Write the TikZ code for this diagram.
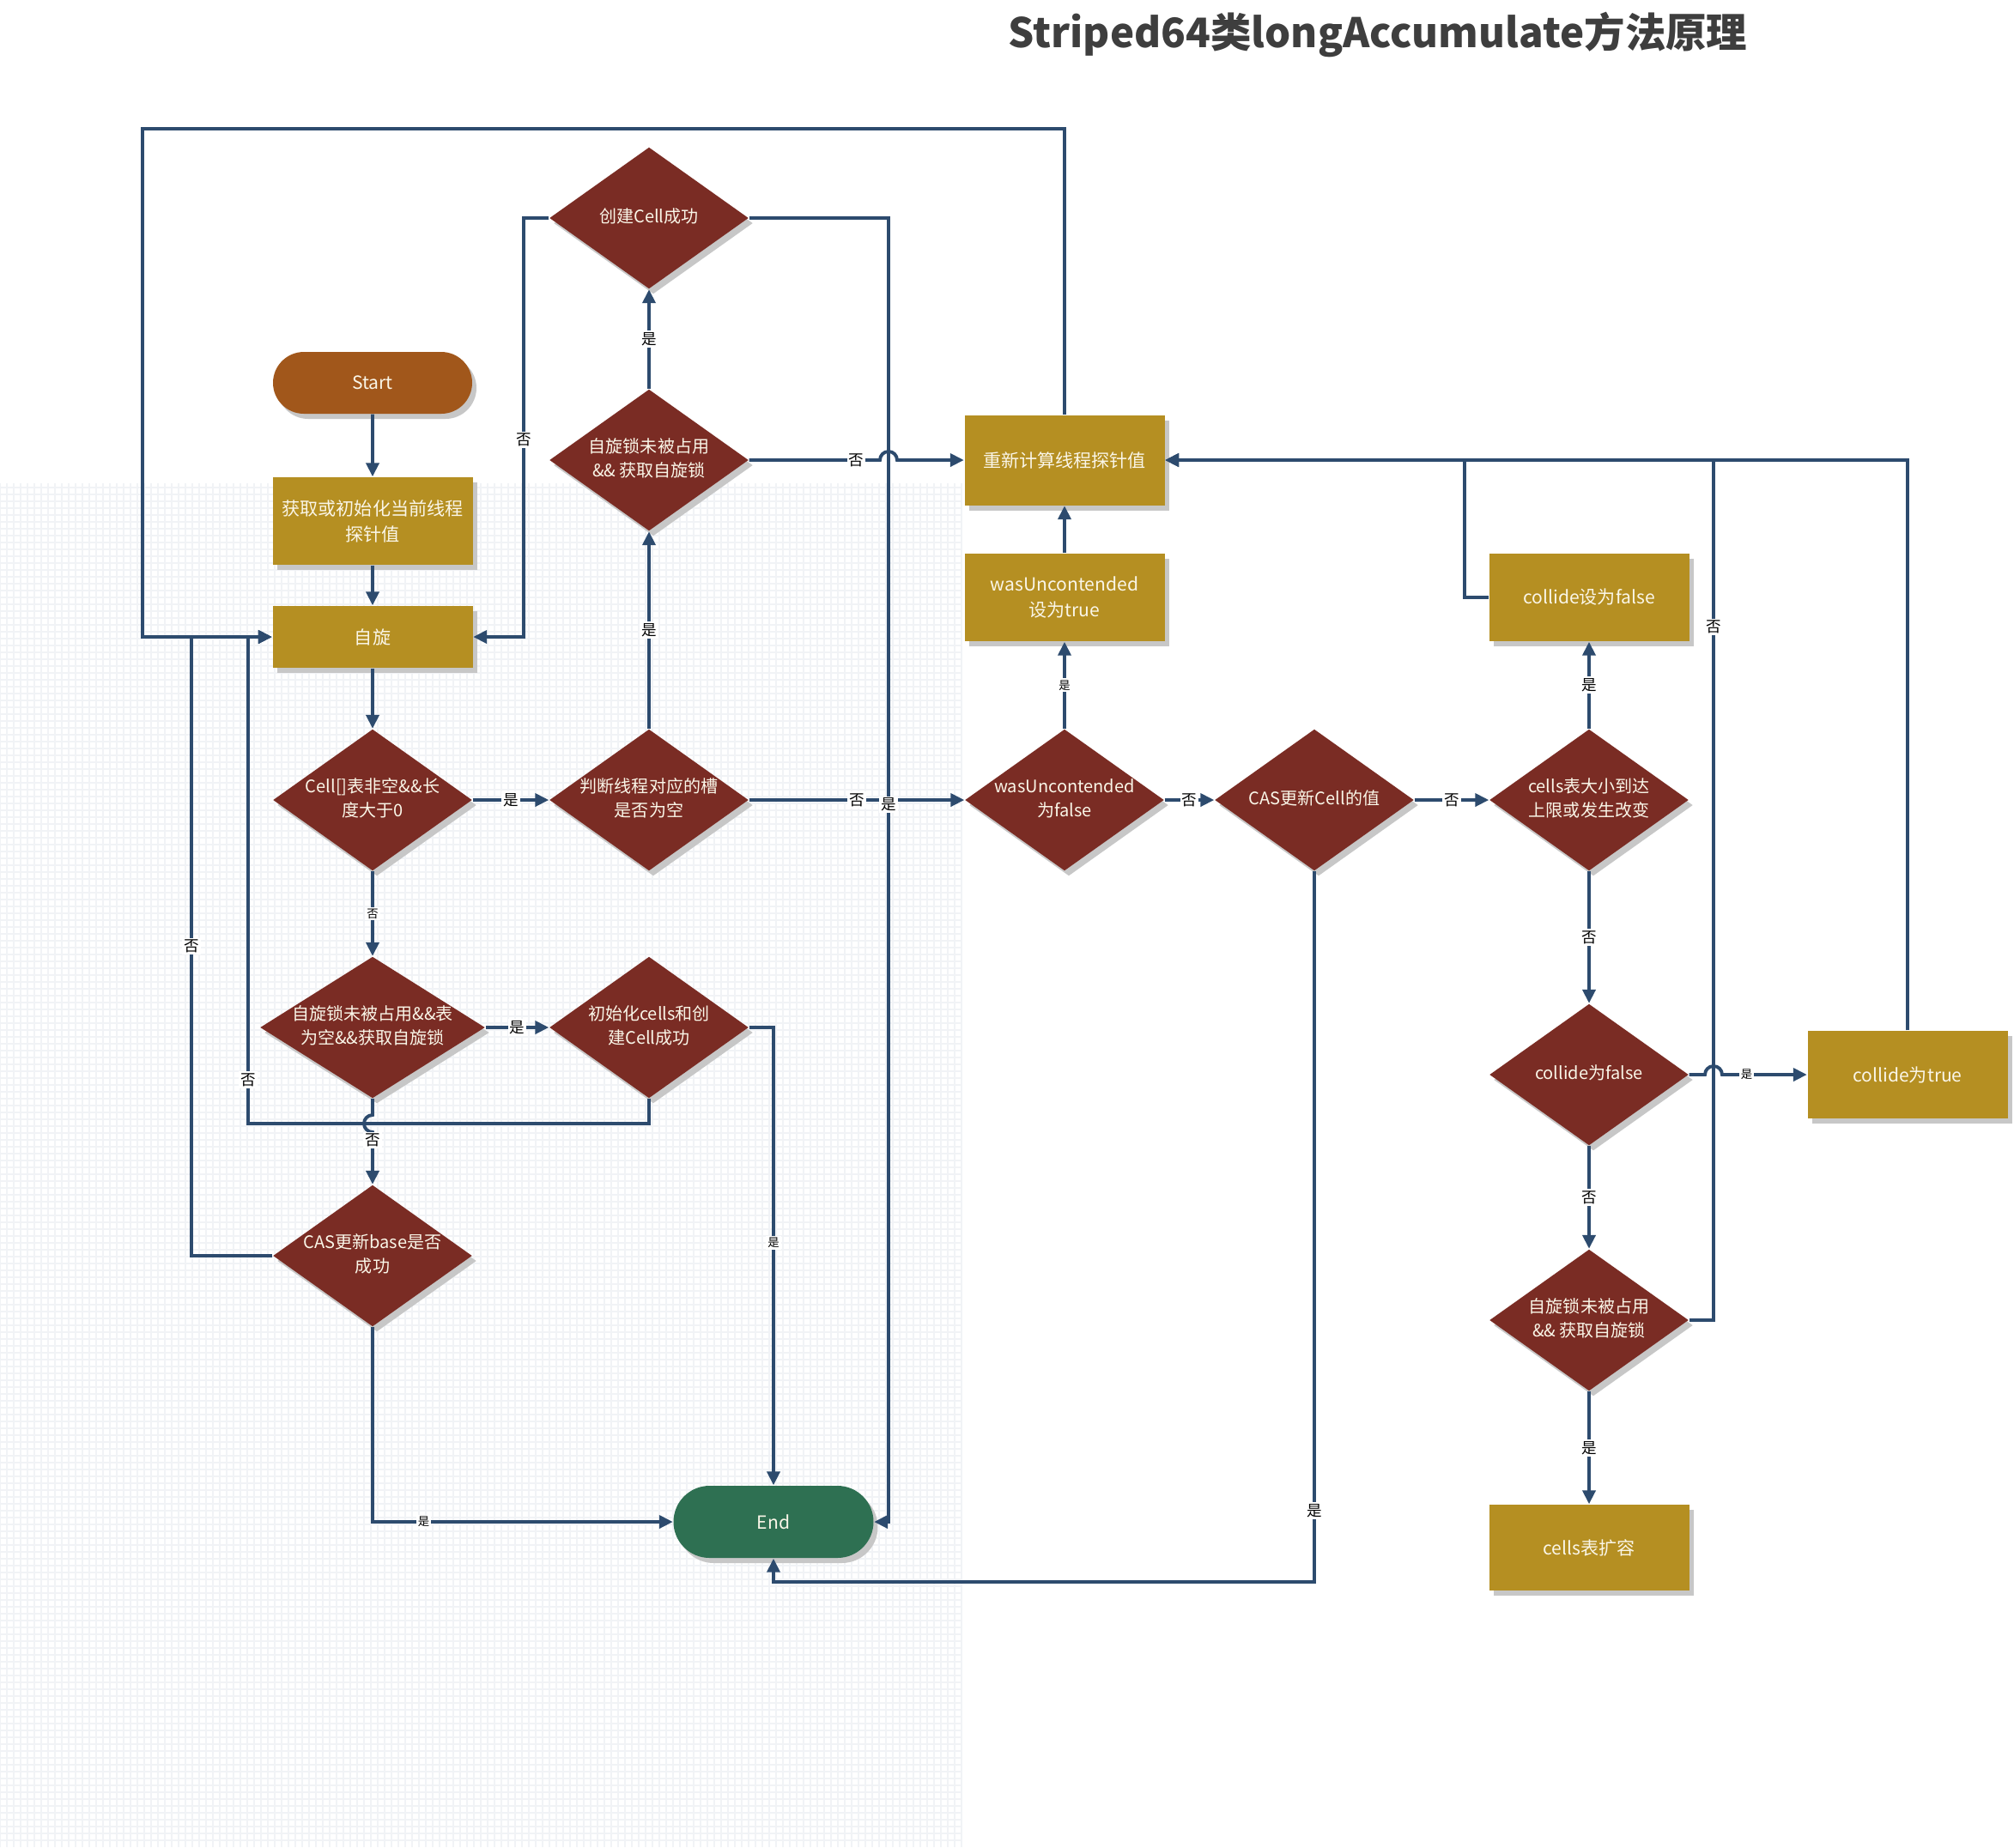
\documentclass[tikz,border=0pt]{standalone}
\usepackage{fontspec}
\setmainfont{Noto Sans CJK SC}
\usetikzlibrary{arrows.meta,shapes.geometric,shapes.misc,shadows}

\definecolor{linec}{RGB}{45,75,110}
\definecolor{boxc}{RGB}{181,143,34}
\definecolor{diac}{RGB}{122,44,36}
\definecolor{startc}{RGB}{161,87,27}
\definecolor{endc}{RGB}{46,112,82}
\definecolor{textc}{RGB}{250,246,232}
\definecolor{gridc}{RGB}{241,243,246}
\definecolor{titlec}{RGB}{62,62,62}

\newcommand{\dtxt}[1]{\makebox[0pt]{\begin{tabular}{@{}c@{}}#1\end{tabular}}}

\tikzset{
  flow/.style={draw=linec, line width=1.1pt, -{Triangle[length=1.6mm,width=1.5mm]}},
  link/.style={draw=linec, line width=1.1pt},
  shade/.style={drop shadow={shadow xshift=0.5mm, shadow yshift=-0.6mm, fill=black!22, opacity=1}},
  procbox/.style={rectangle, fill=boxc, minimum width=2.33cm, minimum height=1.02cm,
    inner sep=0pt, text=textc, align=center, font=\fontsize{6}{8.5}\selectfont, shade},
  decide/.style={diamond, fill=diac, minimum width=2.32cm, minimum height=1.65cm,
    inner sep=0pt, text=textc, font=\fontsize{5.7}{8}\selectfont, shade},
  term/.style={rounded rectangle, minimum width=2.32cm, minimum height=0.72cm,
    inner sep=0pt, text=textc, font=\fontsize{6}{8}\selectfont, shade},
  lbl/.style={fill=white, inner sep=0.6pt, text=black, font=\fontsize{5}{5}\selectfont},
  lblsmall/.style={lbl, font=\fontsize{3.8}{4}\selectfont},
}

\begin{document}
\begin{tikzpicture}
    \useasboundingbox (0,0) rectangle (23.46,-21.52);%
    \fill[white] (0,0) rectangle (23.46,-21.52);%
    \draw[gridc, line width=0.35pt, step=0.08] (0,-21.52) grid (11.2,-5.63);%

    \node[font=\fontsize{13.5}{16}\selectfont\bfseries, text=titlec] (title) at (16.05,-0.40) {Striped64类longAccumulate方法原理};%

    % left column
    \node[term, fill=startc] (start) at (4.34,-4.46) {Start};%
    \node[procbox] (probe) at (4.34,-6.07) {获取或初始化当前线程\\探针值};%
    \node[procbox, minimum height=0.72cm] (spin) at (4.34,-7.42) {自旋};%
    \node[decide] (cellsok) at (4.34,-9.32) {\dtxt{Cell[]表非空\&\&长\\度大于0}};%
    \node[decide, minimum width=2.62cm] (initlock) at (4.34,-11.97) {\dtxt{自旋锁未被占用\&\&表\\为空\&\&获取自旋锁}};%
    \node[decide] (casbase) at (4.34,-14.63) {\dtxt{CAS更新base是否\\成功}};%

    % second column
    \node[decide] (slotnull) at (7.56,-9.32) {\dtxt{判断线程对应的槽\\是否为空}};%
    \node[decide] (getlock) at (7.56,-5.36) {\dtxt{自旋锁未被占用\\\&\& 获取自旋锁}};%
    \node[decide] (cellok) at (7.56,-2.54) {\dtxt{创建Cell成功}};%
    \node[decide] (initcells) at (7.56,-11.97) {\dtxt{初始化cells和创\\建Cell成功}};%
    \node[term, fill=endc, minimum width=2.33cm, minimum height=0.84cm] (end) at (9.01,-17.73) {End};%

    % right part
    \node[procbox, minimum height=1.05cm] (recalc) at (12.40,-5.36) {重新计算线程探针值};%
    \node[procbox] (wastrue) at (12.40,-6.96) {wasUncontended\\设为true};%
    \node[decide] (wasfalse) at (12.40,-9.32) {\dtxt{wasUncontended\\为false}};%
    \node[decide] (cascell) at (15.31,-9.32) {\dtxt{CAS更新Cell的值}};%
    \node[decide] (cellsmax) at (18.51,-9.32) {\dtxt{cells表大小到达\\上限或发生改变}};%
    \node[procbox] (setfalse) at (18.51,-6.96) {collide设为false};%
    \node[decide] (collide) at (18.51,-12.52) {\dtxt{collide为false}};%
    \node[procbox] (settrue) at (22.22,-12.52) {collide为true};%
    \node[decide] (getlock2) at (18.51,-15.38) {\dtxt{自旋锁未被占用\\\&\& 获取自旋锁}};%
    \node[procbox, minimum height=1.0cm] (expand) at (18.51,-18.03) {cells表扩容};%

    % connectors, left side
    \draw[flow] (start) -- (probe);%
    \draw[flow] (probe) -- (spin);%
    \draw[flow] (spin) -- (cellsok);%
    \draw[flow] (cellsok) -- (slotnull) node[lbl,midway] {是};%
    \draw[flow] (cellsok) -- (initlock) node[lblsmall,midway] {否};%
    \draw[flow] (initlock) -- (initcells) node[lbl,midway] {是};%
    \draw[flow] (initcells.south) -- (7.56,-13.09) -- (2.89,-13.09) -- node[lbl,pos=0.09] {否} (2.89,-7.42) -- (spin.west);%
    \draw[flow] (initlock.south) -- (4.34,-12.99) arc[start angle=90, end angle=270, radius=0.1] -- node[lbl,pos=0.16] {否} (casbase.north);%
    \draw[flow] (casbase.west) -- (2.23,-14.63) -- node[lbl] {否} (2.23,-7.42) -- (spin.west);%
    \draw[flow] (casbase.south) -- (4.34,-17.73) -- node[lblsmall,pos=0.17] {是} (end.west);%
    \draw[flow] (initcells.east) -- (9.01,-11.97) -- node[lblsmall,pos=0.47] {是} (end.north);%

    % connectors, middle
    \draw[flow] (slotnull) -- (getlock) node[lbl,midway] {是};%
    \draw[flow] (getlock) -- (cellok) node[lbl,midway] {是};%
    \draw[flow] (cellok.west) -- (6.10,-2.54) -- node[lbl,pos=0.53] {否} (6.10,-7.42) -- (spin.east);%
    \draw[flow] (slotnull) -- (wasfalse) node[lbl,midway] {否};%
    \draw[flow] (cellok.east) -- (10.35,-2.54) -- node[lbl,pos=0.45] {是} (10.35,-17.73) -- (end.east);%
    \draw[flow] (getlock.east) -- node[lbl,pos=0.82] {否} (10.25,-5.36) arc[start angle=180, end angle=0, radius=0.1] -- (recalc.west);%
    \draw[flow] (recalc.north) -- (12.40,-1.50) -- (1.66,-1.50) -- (1.66,-7.42) -- (spin.west);%

    % connectors, right side
    \draw[flow] (wasfalse) -- (wastrue) node[lblsmall,midway] {是};%
    \draw[flow] (wastrue) -- (recalc);%
    \draw[flow] (wasfalse) -- (cascell) node[lbl,midway] {否};%
    \draw[flow] (cascell) -- (cellsmax) node[lbl,midway] {否};%
    \draw[flow] (cascell.south) -- node[lbl,pos=0.90] {是} (15.31,-18.43) -- (9.01,-18.43) -- (end.south);%
    \draw[flow] (cellsmax) -- (setfalse) node[lbl,midway] {是};%
    \draw[flow] (setfalse.west) -- (17.06,-6.96) -- (17.06,-5.36) -- (recalc.east);%
    \draw[flow] (cellsmax) -- (collide) node[lbl,midway] {否};%
    \draw[flow] (getlock2.east) -- (19.96,-15.38) -- node[lbl,pos=0.806] {否} (19.96,-5.36) -- (recalc.east);%
    \draw[flow] (settrue.north) -- (22.22,-5.36) -- (recalc.east);%
    \draw[flow] (collide.east) -- (19.86,-12.52) arc[start angle=180, end angle=0, radius=0.1] -- node[lblsmall,pos=0.29] {是} (settrue.west);%
    \draw[flow] (collide) -- (getlock2) node[lbl,midway] {否};%
    \draw[flow] (getlock2) -- (expand) node[lbl,midway] {是};%
\end{tikzpicture}
\end{document}
